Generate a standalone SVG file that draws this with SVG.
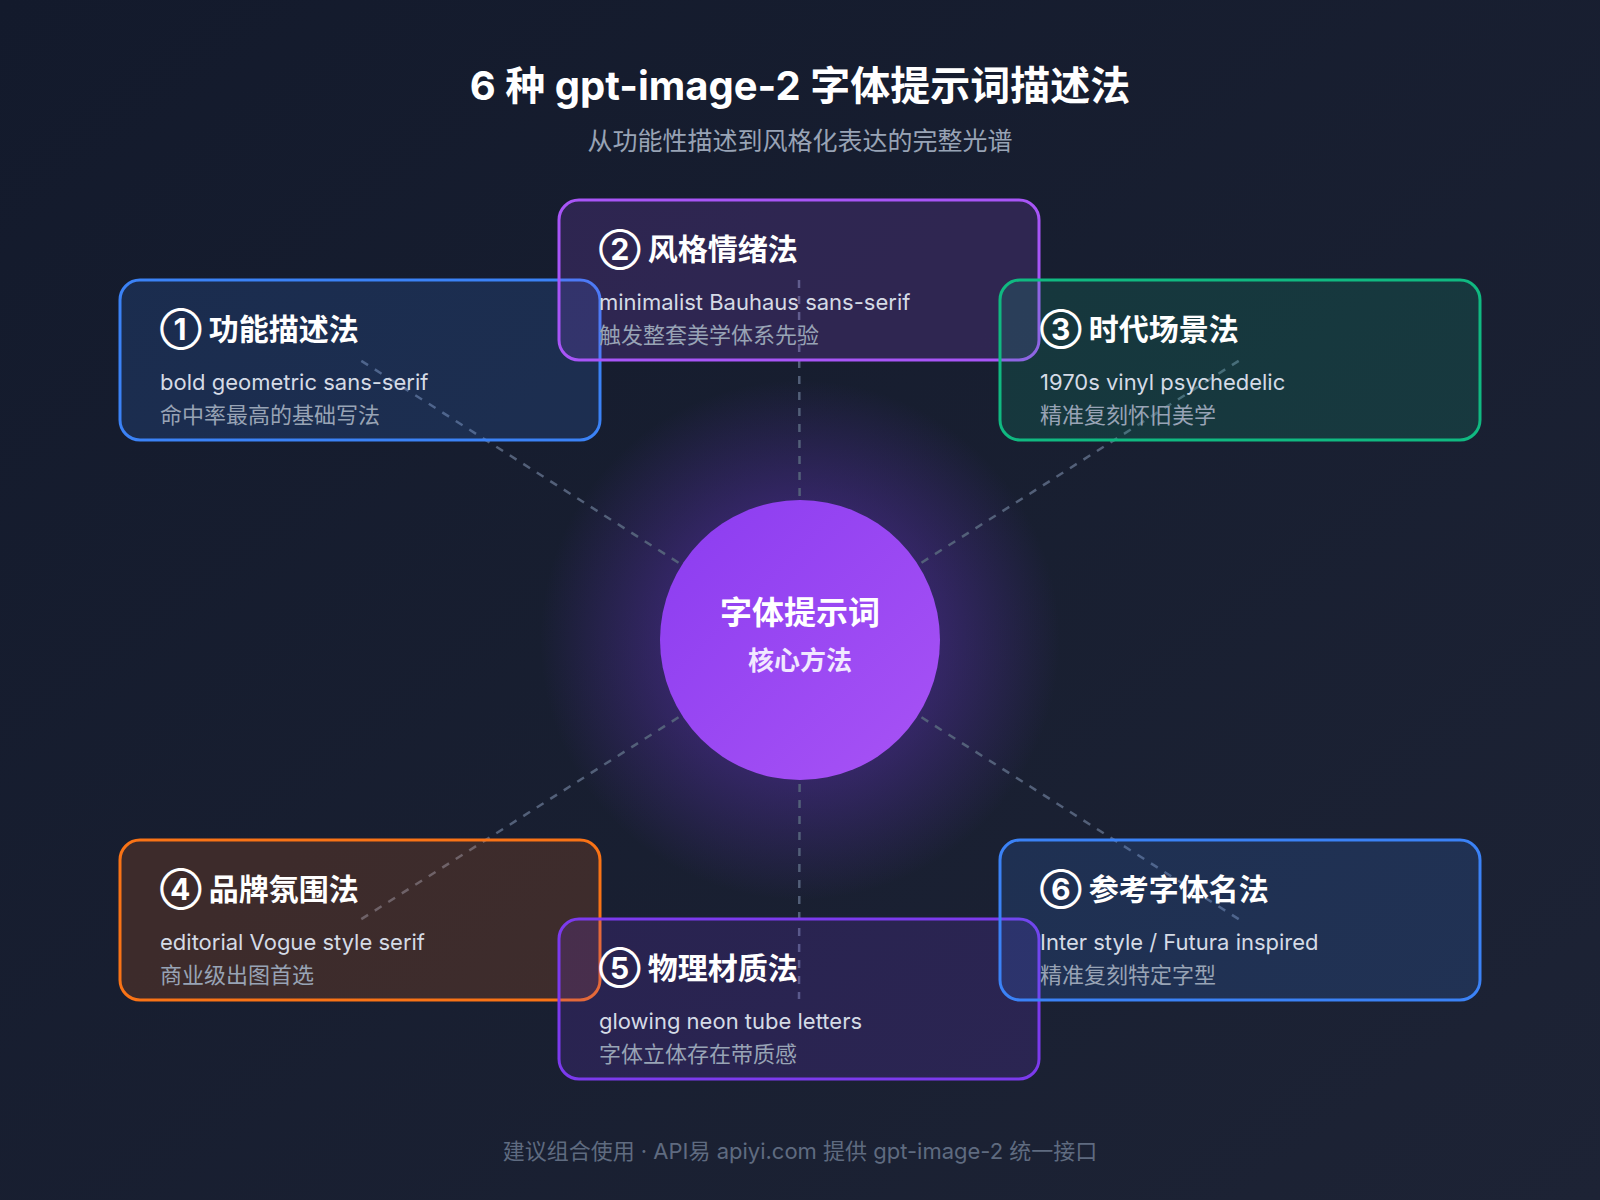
<svg xmlns="http://www.w3.org/2000/svg" width="1600" height="1200" viewBox="0 0 1600 1200">
<defs>
<linearGradient id="bg" x1="0" y1="0" x2="1" y2="1"><stop offset="0" stop-color="#131a2c"/><stop offset="1" stop-color="#1d2335"/></linearGradient>
<radialGradient id="glow" cx="800" cy="640" r="260" gradientUnits="userSpaceOnUse"><stop offset="0.5" stop-color="#7c3aed" stop-opacity="0.3"/><stop offset="1" stop-color="#7c3aed" stop-opacity="0"/></radialGradient>
<linearGradient id="cg" x1="0" y1="0" x2="1" y2="1"><stop offset="0" stop-color="#8b3cf0"/><stop offset="1" stop-color="#a853f5"/></linearGradient>
<style>
text{font-family:Inter,"Noto Sans CJK SC",sans-serif}
.t{font-size:30px;font-weight:700;fill:#fff}
.e{font-size:22px;fill:#d5dbe6}
.c{font-size:22px;fill:#98a3b5}
.box{stroke-width:3}
.ln{stroke:#536079;stroke-width:2.5;stroke-dasharray:8 8;fill:none}
</style>
</defs>
<rect width="1600" height="1200" fill="url(#bg)"/>
<circle cx="800" cy="640" r="260" fill="url(#glow)"/>
<text x="800" y="100" text-anchor="middle" font-size="40" font-weight="700" fill="#fff">6 种 gpt-image-2 字体提示词描述法</text>
<text x="800" y="150" text-anchor="middle" font-size="25" fill="#98a3b5">从功能性描述到风格化表达的完整光谱</text>
<g id="connectors">
<line class="ln" x1="800" y1="640" x2="360" y2="360"/>
<line class="ln" x1="800" y1="640" x2="799" y2="280"/>
<line class="ln" x1="800" y1="640" x2="1240" y2="360"/>
<line class="ln" x1="800" y1="640" x2="360" y2="920"/>
<line class="ln" x1="800" y1="640" x2="799" y2="999"/>
<line class="ln" x1="800" y1="640" x2="1240" y2="920"/>
</g>
<g id="n1"><rect class="box" x="120" y="280" width="480" height="160" rx="20" fill="#3b82f6" fill-opacity="0.17" stroke="#3b82f6"/>
<text class="t" x="160" y="340">① 功能描述法</text><text class="e" x="160" y="390">bold geometric sans-serif</text><text class="c" x="160" y="423">命中率最高的基础写法</text></g>
<g id="n2"><rect class="box" x="559" y="200" width="480" height="160" rx="20" fill="#a855f7" fill-opacity="0.17" stroke="#a855f7"/>
<text class="t" x="599" y="260">② 风格情绪法</text><text class="e" x="599" y="310">minimalist Bauhaus sans-serif</text><text class="c" x="599" y="343">触发整套美学体系先验</text></g>
<g id="n3"><rect class="box" x="1000" y="280" width="480" height="160" rx="20" fill="#10b981" fill-opacity="0.17" stroke="#10b981"/>
<text class="t" x="1040" y="340">③ 时代场景法</text><text class="e" x="1040" y="390">1970s vinyl psychedelic</text><text class="c" x="1040" y="423">精准复刻怀旧美学</text></g>
<g id="n4"><rect class="box" x="120" y="840" width="480" height="160" rx="20" fill="#f97316" fill-opacity="0.17" stroke="#f97316"/>
<text class="t" x="160" y="900">④ 品牌氛围法</text><text class="e" x="160" y="950">editorial Vogue style serif</text><text class="c" x="160" y="983">商业级出图首选</text></g>
<g id="n5"><rect class="box" x="559" y="919" width="480" height="160" rx="20" fill="#7c3aed" fill-opacity="0.17" stroke="#7c3aed"/>
<text class="t" x="599" y="979">⑤ 物理材质法</text><text class="e" x="599" y="1029">glowing neon tube letters</text><text class="c" x="599" y="1062">字体立体存在带质感</text></g>
<g id="n6"><rect class="box" x="1000" y="840" width="480" height="160" rx="20" fill="#3b82f6" fill-opacity="0.17" stroke="#3b82f6"/>
<text class="t" x="1040" y="900">⑥ 参考字体名法</text><text class="e" x="1040" y="950">Inter style / Futura inspired</text><text class="c" x="1040" y="983">精准复刻特定字型</text></g>
<g id="center"><circle cx="800" cy="640" r="140" fill="url(#cg)"/>
<text x="800" y="624" text-anchor="middle" font-size="32" font-weight="700" fill="#fff">字体提示词</text>
<text x="800" y="670" text-anchor="middle" font-size="26" font-weight="700" fill="#f1e8ff">核心方法</text></g>
<text x="800" y="1159" text-anchor="middle" font-size="22" fill="#5f6b80">建议组合使用 · API易 apiyi.com 提供 gpt-image-2 统一接口</text>
</svg>
